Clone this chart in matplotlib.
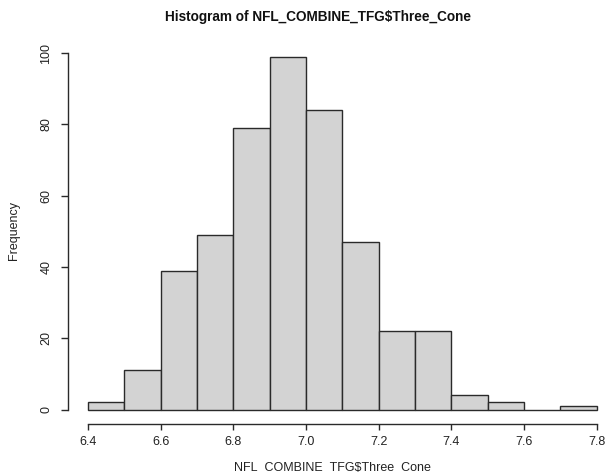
import matplotlib
matplotlib.use("Agg")
import matplotlib.pyplot as plt
import numpy as np

plt.rcParams['font.family'] = ['Liberation Sans', 'DejaVu Sans']

bin_edges = [6.4, 6.5, 6.6, 6.7, 6.8, 6.9, 7.0, 7.1, 7.2, 7.3, 7.4, 7.5, 7.6, 7.7, 7.8]
counts = [2, 11, 39, 49, 79, 99, 84, 47, 22, 22, 4, 2, 0, 1]
xticks = [6.4, 6.6, 6.8, 7.0, 7.2, 7.4, 7.6, 7.8]
yticks = [0, 20, 40, 60, 80, 100]

fig = plt.figure(figsize=(6.05, 4.72), dpi=100)
ax = fig.add_axes([0.1117, 0.1020, 0.908, 0.8158])

lefts = np.array(bin_edges[:-1])
widths = np.diff(bin_edges)
ax.bar(lefts, counts, width=widths, align='edge', color='#D3D3D3',
       edgecolor='#2a2a2a', linewidth=1.0)

ax.set_xlim(6.344, 7.856)
ax.set_ylim(-4, 104)

for s in ['top', 'right']:
    ax.spines[s].set_visible(False)
ax.spines['left'].set_bounds(0, 100)
ax.spines['bottom'].set_bounds(6.4, 7.8)
for s in ['left', 'bottom']:
    ax.spines[s].set_color('#2a2a2a')
    ax.spines[s].set_linewidth(1.0)

ax.set_xticks(xticks)
ax.set_xticklabels([f"{v:.1f}" for v in xticks])
ax.set_yticks(yticks)
ax.set_yticklabels([str(v) for v in yticks], rotation=90, va='center')
ax.tick_params(axis='x', length=4, width=1.0, color='#2a2a2a',
               labelsize=9, labelcolor='#222222', pad=5)
ax.tick_params(axis='y', length=5, width=1.0, color='#2a2a2a',
               labelsize=9, labelcolor='#222222', pad=6)

fig.text(318/605, 1 - 17/472, "Histogram of NFL_COMBINE_TFG\\$Three_Cone",
         ha='center', va='center', fontsize=9.8, fontweight='bold', color='#111111')
fig.text(332/605, 1 - 467/472, "NFL_COMBINE_TFG\\$Three_Cone",
         ha='center', va='center', fontsize=9, color='#222222')
fig.text(14/605, 1 - 230/472, "Frequency", rotation=90,
         ha='center', va='center', fontsize=9, color='#222222')

fig.savefig("out.png", dpi=100)
